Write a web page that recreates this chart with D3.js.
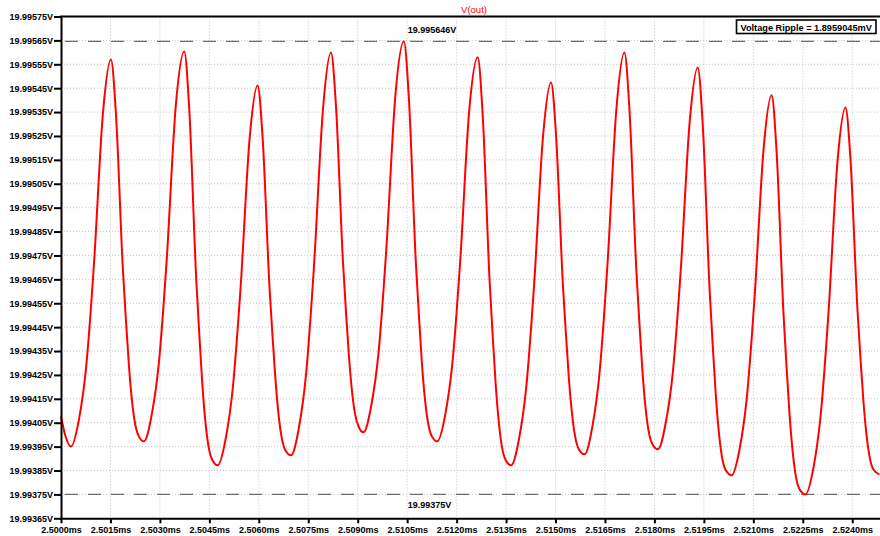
<!DOCTYPE html>
<html>
<head>
<meta charset="utf-8">
<script src="https://cdn.jsdelivr.net/npm/d3@7"></script>
<style>
body { margin: 0; background: #fff; }
svg text { font-family: "Liberation Sans", Arial, sans-serif; }
</style>
</head>
<body>
<svg id="chart" width="880" height="536"></svg>
<script>

// time after 2.5000ms, in microseconds (one row per cycle)
var timeUs = [0, 0.121, 0.303,
    0.545, 0.757, 0.999, 1.271, 1.514, 1.665, 1.877, 1.968, 2.059, 2.149, 2.240, 2.361, 2.513,
    2.755, 2.967, 3.209, 3.481, 3.739, 3.890, 4.102, 4.193, 4.284, 4.374, 4.465, 4.586, 4.753,
    4.995, 5.207, 5.449, 5.721, 5.964, 6.115, 6.327, 6.418, 6.509, 6.599, 6.690, 6.811, 6.978,
    7.220, 7.432, 7.674, 7.947, 8.189, 8.340, 8.552, 8.643, 8.734, 8.824, 8.915, 9.036, 9.173,
    9.415, 9.627, 9.869, 10.141, 10.399, 10.550, 10.762, 10.853, 10.943, 11.034, 11.125, 11.246, 11.413,
    11.655, 11.867, 12.109, 12.381, 12.639, 12.790, 13.002, 13.093, 13.184, 13.274, 13.365, 13.486, 13.653,
    13.895, 14.107, 14.349, 14.622, 14.864, 15.015, 15.227, 15.318, 15.409, 15.499, 15.590, 15.711, 15.878,
    16.120, 16.332, 16.574, 16.847, 17.089, 17.240, 17.452, 17.543, 17.634, 17.724, 17.815, 17.936, 18.103,
    18.345, 18.557, 18.799, 19.072, 19.314, 19.465, 19.677, 19.768, 19.859, 19.949, 20.040, 20.161, 20.343,
    20.585, 20.797, 21.039, 21.312, 21.554, 21.705, 21.917, 22.008, 22.099, 22.190, 22.281, 22.402, 22.583,
    22.825, 23.037, 23.280, 23.552, 23.794, 23.946, 24.158, 24.248, 24.339, 24.430, 24.521, 24.642, 24.824];

// V(out) in volts
var voutV = [19.994077, 19.994001, 19.993951,
    19.994064, 19.994275, 19.994712, 19.995343, 19.995570, 19.995346, 19.994691, 19.994483, 19.994292, 19.994148, 19.994052, 19.993993, 19.993972,
    19.994086, 19.994298, 19.994739, 19.995376, 19.995604, 19.995362, 19.994651, 19.994426, 19.994218, 19.994063, 19.993959, 19.993895, 19.993872,
    19.993983, 19.994190, 19.994619, 19.995239, 19.995461, 19.995244, 19.994610, 19.994409, 19.994223, 19.994084, 19.993991, 19.993934, 19.993914,
    19.994032, 19.994251, 19.994706, 19.995363, 19.995599, 19.995377, 19.994725, 19.994518, 19.994328, 19.994185, 19.994089, 19.994031, 19.994010,
    19.994125, 19.994337, 19.994779, 19.995417, 19.995646, 19.995412, 19.994725, 19.994508, 19.994307, 19.994156, 19.994056, 19.993994, 19.993972,
    19.994084, 19.994293, 19.994727, 19.995354, 19.995579, 19.995340, 19.994640, 19.994418, 19.994213, 19.994060, 19.993957, 19.993894, 19.993872,
    19.993984, 19.994192, 19.994625, 19.995250, 19.995474, 19.995256, 19.994618, 19.994416, 19.994229, 19.994089, 19.993996, 19.993938, 19.993918,
    19.994036, 19.994254, 19.994708, 19.995364, 19.995599, 19.995367, 19.994686, 19.994470, 19.994271, 19.994122, 19.994022, 19.993961, 19.993939,
    19.994051, 19.994259, 19.994690, 19.995313, 19.995537, 19.995298, 19.994598, 19.994376, 19.994171, 19.994018, 19.993915, 19.993852, 19.993830,
    19.993941, 19.994148, 19.994577, 19.995197, 19.995420, 19.995186, 19.994501, 19.994284, 19.994084, 19.993934, 19.993833, 19.993772, 19.993750,
    19.993863, 19.994074, 19.994511, 19.995142, 19.995369, 19.995154, 19.994525, 19.994325, 19.994141, 19.994003, 19.993911, 19.993854, 19.993834];

var xTicks = [2.5000, 2.5015, 2.5030, 2.5045, 2.5060, 2.5075, 2.5090, 2.5105, 2.5120,
    2.5135, 2.5150, 2.5165, 2.5180, 2.5195, 2.5210, 2.5225, 2.5240];

var yTicks = [19.99365, 19.99375, 19.99385, 19.99395, 19.99405, 19.99415, 19.99425,
    19.99435, 19.99445, 19.99455, 19.99465, 19.99475, 19.99485, 19.99495, 19.99505,
    19.99515, 19.99525, 19.99535, 19.99545, 19.99555, 19.99565, 19.99575];

var maxV = 19.995646;
var minV = 19.99375;
var cursorTime = 2.5105;
var traceName = "V(out)";
var rippleText = "Voltage Ripple = 1.8959045mV";

var svg = d3.select("#chart");

var x = d3.scaleLinear()
    .domain([2.5, 2.525])
    .range([61, 885.2]);

var y = d3.scaleLinear()
    .domain([19.99365, 19.99575])
    .range([518.3, 16.5]);

var data = timeUs.map(function(t, i) { return { t: 2.5 + t / 1000, v: voutV[i] }; });

// grid
svg.append("g").selectAll("line.vgrid")
    .data(xTicks.slice(1))
    .enter().append("line")
    .attr("x1", function(d) { return x(d); })
    .attr("x2", function(d) { return x(d); })
    .attr("y1", y(19.99575))
    .attr("y2", y(19.99365))
    .attr("stroke", "#c4c4c4")
    .attr("stroke-dasharray", "1,2");

svg.append("g").selectAll("line.hgrid")
    .data(yTicks.slice(1, -1))
    .enter().append("line")
    .attr("x1", 61)
    .attr("x2", 880)
    .attr("y1", function(d) { return y(d); })
    .attr("y2", function(d) { return y(d); })
    .attr("stroke", "#c4c4c4")
    .attr("stroke-dasharray", "1,2");

// max / min cursors
svg.append("g").selectAll("line.cursor")
    .data([maxV, minV])
    .enter().append("line")
    .attr("x1", 61)
    .attr("x2", 880)
    .attr("y1", function(d) { return y(d); })
    .attr("y2", function(d) { return y(d); })
    .attr("stroke", "#6e6e6e")
    .attr("stroke-width", 1.2)
    .attr("stroke-dasharray", "13,10")
    .attr("stroke-dashoffset", -4);

// trace
svg.append("path")
    .datum(data)
    .attr("fill", "none")
    .attr("stroke", "#ff0000")
    .attr("stroke-width", 2)
    .attr("d", d3.line()
        .curve(d3.curveMonotoneX)
        .x(function(d) { return x(d.t); })
        .y(function(d) { return y(d.v); })
    );

// axes
var yAxis = svg.append("g")
    .attr("transform", "translate(61,0)")
    .call(d3.axisLeft(y)
        .tickValues(yTicks)
        .tickSize(7)
        .tickSizeOuter(0)
        .tickPadding(1)
        .tickFormat(function(d) { return d3.format(".5f")(d) + "V"; }));

var xAxis = svg.append("g")
    .attr("transform", "translate(0,518.3)")
    .call(d3.axisBottom(x)
        .tickValues(xTicks)
        .tickSize(5)
        .tickSizeOuter(0)
        .tickPadding(3)
        .tickFormat(function(d) { return d3.format(".4f")(d) + "ms"; }));

[xAxis, yAxis].forEach(function(a) {
    a.select(".domain").attr("stroke", "#000").attr("stroke-width", 2);
    a.selectAll(".tick line").attr("stroke", "#000").attr("stroke-width", 2);
    a.selectAll(".tick text")
        .attr("fill", "#000")
        .style("font-size", "9px")
        .style("font-weight", "bold")
        .style("font-family", "'Liberation Sans', Arial, sans-serif");
});

// top frame
svg.append("line")
    .attr("x1", 60).attr("x2", 880)
    .attr("y1", 16.5).attr("y2", 16.5)
    .attr("stroke", "#000")
    .attr("stroke-width", 2);

// title
svg.append("text")
    .attr("x", 474)
    .attr("y", 13)
    .attr("text-anchor", "middle")
    .attr("fill", "#ff0000")
    .style("font-size", "9.5px")
    .text(traceName);

// cursor labels
svg.append("text")
    .attr("x", x(cursorTime) + 0.5)
    .attr("y", 33)
    .attr("fill", "#000")
    .style("font-size", "9px")
    .style("font-weight", "bold")
    .text(d3.format(".6f")(maxV) + "V");

svg.append("text")
    .attr("x", x(cursorTime) + 0.5)
    .attr("y", 507.5)
    .attr("fill", "#000")
    .style("font-size", "9px")
    .style("font-weight", "bold")
    .text(d3.format(".5f")(minV) + "V");

// ripple box
svg.append("rect")
    .attr("x", 736.5)
    .attr("y", 20)
    .attr("width", 139.5)
    .attr("height", 13.5)
    .attr("fill", "#fff")
    .attr("stroke", "#000")
    .attr("stroke-width", 1.6);

svg.append("text")
    .attr("x", 740.5)
    .attr("y", 30.5)
    .attr("fill", "#000")
    .style("font-size", "9.2px")
    .style("font-weight", "bold")
    .text(rippleText);

</script>
</body>
</html>
